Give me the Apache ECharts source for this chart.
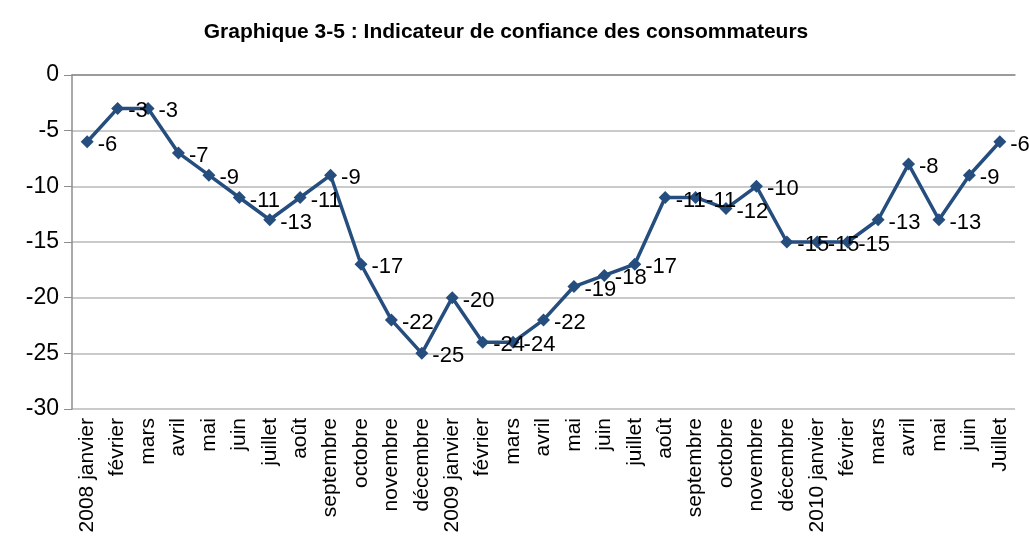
<!DOCTYPE html>
<html>
<head>
<meta charset="utf-8">
<script src="https://cdn.jsdelivr.net/npm/echarts@6/dist/echarts.min.js"></script>
<style>
  html, body { margin: 0; padding: 0; background: #fff; }
  #chart { width: 1029px; height: 551px; }
</style>
</head>
<body>
<div id="chart"></div>
<script>
// catégories (mois) et valeurs de l'indicateur
var months = ['2008 janvier', 'février', 'mars', 'avril', 'mai', 'juin', 'juillet', 'août',
  'septembre', 'octobre', 'novembre', 'décembre', '2009 janvier', 'février', 'mars', 'avril',
  'mai', 'juin', 'juillet', 'août', 'septembre', 'octobre', 'novembre', 'décembre',
  '2010 janvier', 'février', 'mars', 'avril', 'mai', 'juin', 'Juillet'];
var confiance = [-6, -3, -3, -7, -9, -11, -13, -11, -9, -17, -22, -25, -20, -24, -24, -22,
  -19, -18, -17, -11, -11, -12, -10, -15, -15, -15, -13, -8, -13, -9, -6];

var FONT = '"Liberation Sans Narrow", "Arial Narrow", "Liberation Sans", sans-serif';

var chart = echarts.init(document.getElementById('chart'));
var option = {
  animation: false,
  title: {
    text: 'Graphique 3-5 : Indicateur de confiance des consommateurs',
    left: 501,
    textAlign: 'center',
    top: 17,
    textStyle: { fontFamily: FONT, fontSize: 21, fontWeight: 'bold', color: '#000' }
  },
  grid: { left: 72, right: 14, top: 75, bottom: 142 },
  xAxis: {
    type: 'category',
    data: months,
    boundaryGap: true,
    axisLine: { lineStyle: { color: '#8c8c8c', width: 1.5 } },
    axisTick: { show: false },
    axisLabel: {
      rotate: 90,
      interval: 0,
      margin: 9,
      color: '#000',
      fontFamily: FONT,
      fontSize: 21
    }
  },
  yAxis: {
    type: 'value',
    min: -30,
    max: 0,
    interval: 5,
    axisLine: { show: true, lineStyle: { color: '#8c8c8c', width: 1.5 } },
    axisTick: { show: true, length: 8, lineStyle: { color: '#8c8c8c' } },
    axisLabel: { color: '#000', fontFamily: FONT, fontSize: 23, margin: 13 },
    splitLine: { lineStyle: { color: '#b8b8b8', width: 1.5 } }
  },
  series: [{
    type: 'line',
    data: confiance,
    symbol: 'diamond',
    symbolSize: 13,
    lineStyle: { color: '#254e7f', width: 3.5 },
    itemStyle: { color: '#254e7f' },
    label: {
      show: true,
      position: 'right',
      distance: 4,
      offset: [0, 3],
      color: '#000',
      fontFamily: FONT,
      fontSize: 22
    }
  }]
};
chart.setOption(option);
</script>
</body>
</html>
